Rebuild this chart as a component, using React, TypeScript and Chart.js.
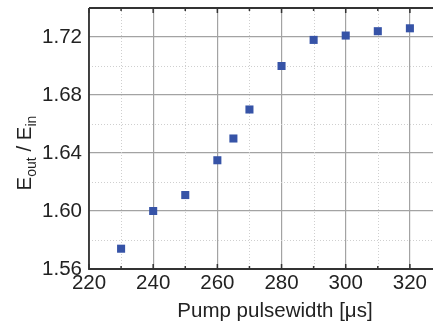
import React, { useEffect, useRef } from "react";
import { Chart, registerables } from "chart.js";

Chart.register(...registerables);

const pulsewidths = [230, 240, 250, 260, 265, 270, 280, 290, 300, 310, 320];
const ratios = [1.574, 1.600, 1.611, 1.635, 1.650, 1.670, 1.700, 1.718, 1.721, 1.724, 1.726];
const xMajorTicks = [220, 240, 260, 280, 300, 320];
const xMinorTicks = [230, 250, 270, 290, 310];
const yMajorTicks = [1.56, 1.60, 1.64, 1.68, 1.72];
const yMinorTicks = [1.58, 1.62, 1.66, 1.70];
const xTitle = "Pump pulsewidth [μs]";

const FONT = "'Liberation Sans', Arial, sans-serif";

const framePlugin = {
  id: "frame",
  beforeDatasetsDraw(chart: any) {
    const { ctx, chartArea: a, scales } = chart;
    const xs = scales.x, ys = scales.y;
    ctx.save();
    ctx.strokeStyle = "#cfcfcf";
    ctx.lineWidth = 1;
    ctx.setLineDash([1, 2]);
    xMinorTicks.forEach((v) => {
      const px = Math.round(xs.getPixelForValue(v)) + 0.5;
      ctx.beginPath(); ctx.moveTo(px, a.top); ctx.lineTo(px, a.bottom); ctx.stroke();
    });
    yMinorTicks.forEach((v) => {
      const py = Math.round(ys.getPixelForValue(v)) + 0.5;
      ctx.beginPath(); ctx.moveTo(a.left, py); ctx.lineTo(a.right, py); ctx.stroke();
    });
    ctx.setLineDash([]);
    ctx.strokeStyle = "#333";
    ctx.lineWidth = 1.8;
    ctx.beginPath();
    ctx.moveTo(a.left, a.top); ctx.lineTo(a.right + 2, a.top);
    ctx.moveTo(a.left, a.top); ctx.lineTo(a.left, a.bottom); ctx.lineTo(a.right + 2, a.bottom);
    ctx.stroke();
    ctx.lineWidth = 1.5;
    const tick = (v: number, len: number) => {
      const px = xs.getPixelForValue(v);
      ctx.beginPath();
      ctx.moveTo(px, a.top); ctx.lineTo(px, a.top + len);
      ctx.moveTo(px, a.bottom); ctx.lineTo(px, a.bottom - len);
      ctx.stroke();
    };
    xMajorTicks.forEach((v) => tick(v, 5));
    xMinorTicks.forEach((v) => tick(v, 3));
    ctx.restore();
  },
  afterDraw(chart: any) {
    const { ctx } = chart;
    ctx.save();
    ctx.fillStyle = "#222";
    ctx.font = `20.5px ${FONT}`;
    ctx.textAlign = "center";
    ctx.textBaseline = "alphabetic";
    ctx.fillText(xTitle, 275, 317);
    const big = `20.5px ${FONT}`;
    const small = `14px ${FONT}`;
    const parts: [string, string, number][] = [
      ["E", big, 0],
      ["out", small, 5.5],
      [" / E", big, 0],
      ["in", small, 5.5],
    ];
    let total = 0;
    parts.forEach(([t, f]) => { ctx.font = f; total += ctx.measureText(t).width; });
    ctx.translate(30.7, 153);
    ctx.rotate(-Math.PI / 2);
    ctx.textAlign = "left";
    let x = -total / 2;
    parts.forEach(([t, f, dy]) => {
      ctx.font = f;
      ctx.fillText(t, x, dy);
      x += ctx.measureText(t).width;
    });
    ctx.restore();
  },
};

const zeroPad = (s: any) => {
  s.paddingLeft = 0; s.paddingRight = 0; s.paddingTop = 0; s.paddingBottom = 0;
};

export default function App() {
  const ref = useRef<HTMLCanvasElement>(null);
  useEffect(() => {
    const chart = new Chart(ref.current!, {
      type: "scatter",
      data: {
        datasets: [
          {
            data: pulsewidths.map((x, i) => ({ x, y: ratios[i] })),
            pointStyle: "rect",
            pointRadius: 5.7,
            backgroundColor: "#3653a7",
            borderColor: "#3653a7",
            borderWidth: 0,
          },
        ],
      },
      options: {
        animation: false,
        responsive: false,
        maintainAspectRatio: false,
        layout: { autoPadding: false, padding: { top: 8, right: 0, left: 0, bottom: 0 } },
        plugins: { legend: { display: false }, tooltip: { enabled: false } },
        scales: {
          x: {
            type: "linear",
            min: 220,
            max: 327.2,
            afterBuildTicks: (s: any) => { s.ticks = xMajorTicks.map((v) => ({ value: v })); },
            afterFit: (s: any) => { s.height = 55; zeroPad(s); },
            grid: { color: "#a3a3a3", lineWidth: 1.2, drawTicks: false },
            border: { display: false },
            ticks: {
              font: { family: FONT, size: 20.5 },
              color: "#222",
              padding: 2,
              maxRotation: 0,
              autoSkip: false,
              callback: (v: any) => String(v),
            },
          },
          y: {
            type: "linear",
            min: 1.56,
            max: 1.74,
            afterBuildTicks: (s: any) => { s.ticks = yMajorTicks.map((v) => ({ value: v })); },
            afterFit: (s: any) => { s.width = 89; zeroPad(s); },
            grid: { color: "#a3a3a3", lineWidth: 1.2, drawTicks: false },
            border: { display: false },
            ticks: {
              font: { family: FONT, size: 20.5 },
              color: "#222",
              padding: 7,
              autoSkip: false,
              callback: (v: any) => Number(v).toFixed(2),
            },
          },
        },
      },
      plugins: [framePlugin],
    });
    return () => chart.destroy();
  }, []);
  return (
    <div style={{ position: "fixed", left: 0, top: 0, width: 433, height: 324, background: "#fff" }}>
      <canvas ref={ref} width={433} height={324} style={{ width: 433, height: 324 }} />
    </div>
  );
}
